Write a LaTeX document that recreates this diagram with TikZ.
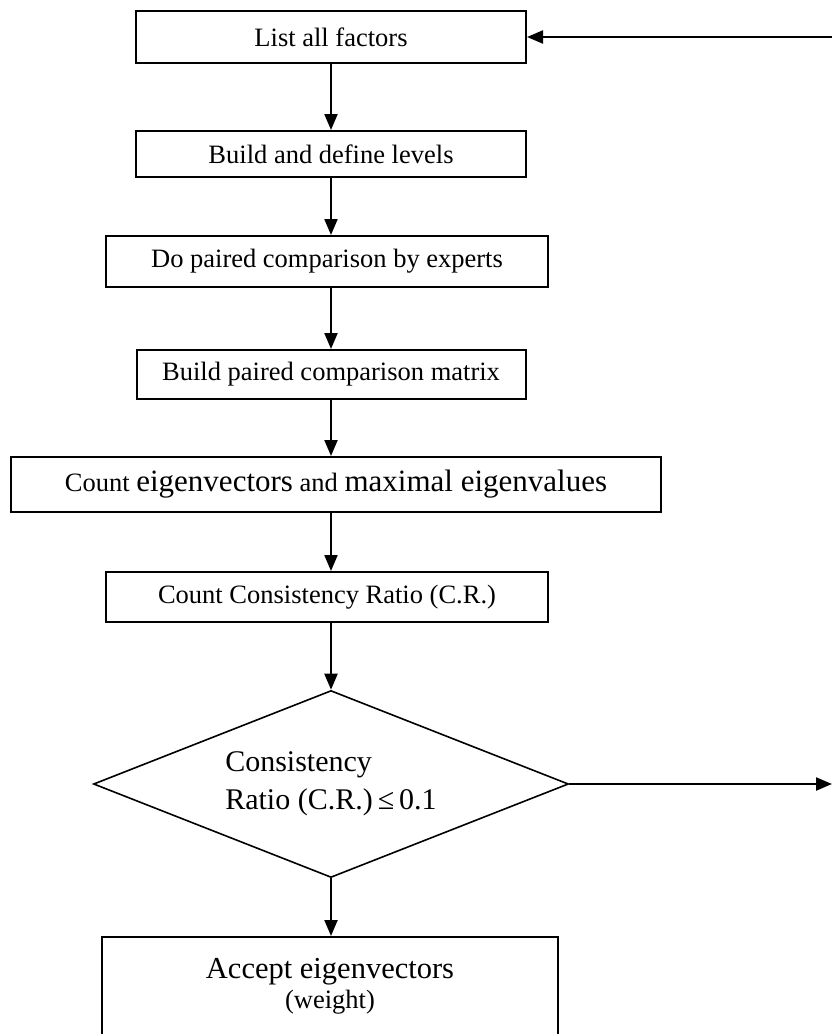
\documentclass[tikz,border=0pt]{standalone}
\usepackage{fontspec}
\setmainfont{Liberation Serif}
\usepackage{tikz}
\usetikzlibrary{positioning,shapes.geometric,arrows.meta}

\begin{document}
\begin{tikzpicture}[x=1pt,y=-1pt,
  stepbox/.style={draw,rectangle,line width=2pt,inner sep=0pt,font=\fontsize{26.5}{30}\selectfont},
  test/.style={draw,diamond,line width=1.6pt,inner sep=0pt,aspect=2.54,minimum width=475pt,minimum height=187pt,align=left,font=\fontsize{30}{38}\selectfont},
  arr/.style={-{Triangle[length=16pt,width=13pt]},line width=2.2pt}]
  \useasboundingbox (0,0) rectangle (832,1034);
  \clip (0,0) rectangle (832,1034);
      \node[stepbox,minimum width=390pt,minimum height=52pt] (b1) at (331,37) {List all factors};
      \node[stepbox,minimum width=390pt,minimum height=46pt] (b2) at (331,154) {Build and define levels};
      \node[stepbox,minimum width=442pt,minimum height=51pt] (b3) at (327,261.5) {Do paired comparison by experts};
      \node[stepbox,minimum width=389pt,minimum height=49pt] (b4) at (331,374.5) {Build paired comparison matrix};
      \node[stepbox,minimum width=650pt,minimum height=55pt] (b5) at (336,484.5) {Count {\fontsize{31}{34}\selectfont eigenvectors} and {\fontsize{31}{34}\selectfont maximal eigenvalues}};
      \node[stepbox,minimum width=442pt,minimum height=50pt] (b6) at (327,597) {Count Consistency Ratio (C.R.)};
      \node[test] (d) at (331,784) {Consistency\\Ratio (C.R.)\,≤\,0.1};
      \node[stepbox,minimum width=456pt,minimum height=99pt,align=center] (b7) at (330,986.5) {{\fontsize{30.5}{34}\selectfont Accept eigenvectors}\\(weight)};

      \coordinate (r1) at (832,37);
      \coordinate (r2) at (832,784);

      \draw[arr] (b1.south) -- (b2.north -| b1.south);
      \draw[arr] (b2.south -| b1.south) -- (b3.north -| b1.south);
      \draw[arr] (b3.south -| b1.south) -- (b4.north -| b1.south);
      \draw[arr] (b4.south -| b1.south) -- (b5.north -| b1.south);
      \draw[arr] (b5.south -| b1.south) -- (b6.north -| b1.south);
      \draw[arr] (b6.south -| d.north) -- (d.north);
      \draw[arr] (d.south) -- (b7.north -| d.south);
      \draw[arr] (d.east) -- (r2);
      \draw[arr] (r1) -- (b1.east);
     \end{tikzpicture}
\end{document}
